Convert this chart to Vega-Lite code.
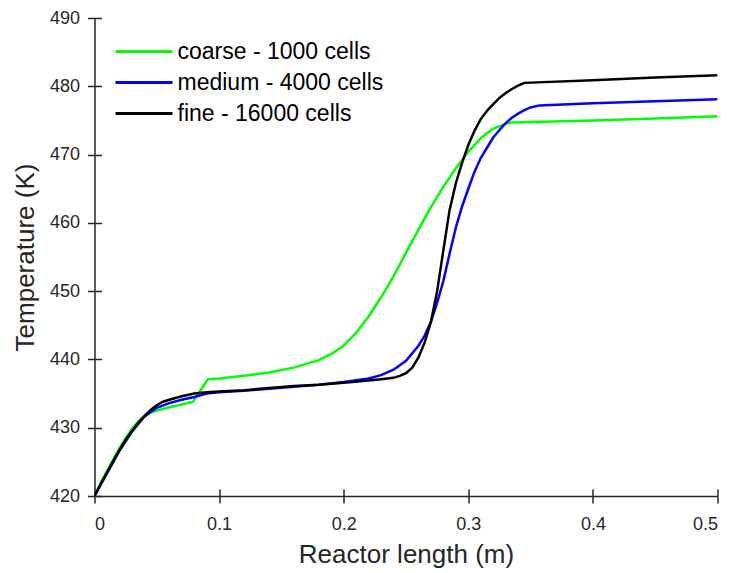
{
  "$schema": "https://vega.github.io/schema/vega-lite/v6.json",
  "width": 623,
  "height": 478,
  "autosize": {"type": "none"},
  "padding": {"left": 94.5, "top": 18, "right": 16.5, "bottom": 77},
  "background": "white",
  "config": {"view": {"stroke": null}, "font": "Liberation Sans"},
  "datasets": {
    "d": [
      {"s": "coarse - 1000 cells", "x": 0, "t": 420},
      {"s": "coarse - 1000 cells", "x": 0.005, "t": 422.0},
      {"s": "coarse - 1000 cells", "x": 0.01, "t": 423.7},
      {"s": "coarse - 1000 cells", "x": 0.02, "t": 427.0},
      {"s": "coarse - 1000 cells", "x": 0.025, "t": 428.5},
      {"s": "coarse - 1000 cells", "x": 0.03, "t": 429.8},
      {"s": "coarse - 1000 cells", "x": 0.035, "t": 430.9},
      {"s": "coarse - 1000 cells", "x": 0.04, "t": 431.7},
      {"s": "coarse - 1000 cells", "x": 0.045, "t": 432.2},
      {"s": "coarse - 1000 cells", "x": 0.05, "t": 432.5},
      {"s": "coarse - 1000 cells", "x": 0.06, "t": 433.0},
      {"s": "coarse - 1000 cells", "x": 0.07, "t": 433.4},
      {"s": "coarse - 1000 cells", "x": 0.079, "t": 433.8},
      {"s": "coarse - 1000 cells", "x": 0.091, "t": 437.1},
      {"s": "coarse - 1000 cells", "x": 0.1, "t": 437.2},
      {"s": "coarse - 1000 cells", "x": 0.106, "t": 437.3},
      {"s": "coarse - 1000 cells", "x": 0.12, "t": 437.6},
      {"s": "coarse - 1000 cells", "x": 0.14, "t": 438.1},
      {"s": "coarse - 1000 cells", "x": 0.16, "t": 438.8},
      {"s": "coarse - 1000 cells", "x": 0.18, "t": 439.9},
      {"s": "coarse - 1000 cells", "x": 0.19, "t": 440.8},
      {"s": "coarse - 1000 cells", "x": 0.2, "t": 442.0},
      {"s": "coarse - 1000 cells", "x": 0.21, "t": 443.9},
      {"s": "coarse - 1000 cells", "x": 0.22, "t": 446.3},
      {"s": "coarse - 1000 cells", "x": 0.23, "t": 449.1},
      {"s": "coarse - 1000 cells", "x": 0.24, "t": 452.2},
      {"s": "coarse - 1000 cells", "x": 0.25, "t": 455.6},
      {"s": "coarse - 1000 cells", "x": 0.26, "t": 459.0},
      {"s": "coarse - 1000 cells", "x": 0.27, "t": 462.3},
      {"s": "coarse - 1000 cells", "x": 0.28, "t": 465.3},
      {"s": "coarse - 1000 cells", "x": 0.29, "t": 468.0},
      {"s": "coarse - 1000 cells", "x": 0.3, "t": 470.4},
      {"s": "coarse - 1000 cells", "x": 0.31, "t": 472.4},
      {"s": "coarse - 1000 cells", "x": 0.32, "t": 473.8},
      {"s": "coarse - 1000 cells", "x": 0.33, "t": 474.5},
      {"s": "coarse - 1000 cells", "x": 0.335, "t": 474.7},
      {"s": "coarse - 1000 cells", "x": 0.4, "t": 475.0},
      {"s": "coarse - 1000 cells", "x": 0.45, "t": 475.3},
      {"s": "coarse - 1000 cells", "x": 0.5, "t": 475.6},
      {"s": "medium - 4000 cells", "x": 0, "t": 420},
      {"s": "medium - 4000 cells", "x": 0.005, "t": 421.7},
      {"s": "medium - 4000 cells", "x": 0.01, "t": 423.3},
      {"s": "medium - 4000 cells", "x": 0.02, "t": 426.6},
      {"s": "medium - 4000 cells", "x": 0.03, "t": 429.4},
      {"s": "medium - 4000 cells", "x": 0.035, "t": 430.5},
      {"s": "medium - 4000 cells", "x": 0.04, "t": 431.6},
      {"s": "medium - 4000 cells", "x": 0.045, "t": 432.3},
      {"s": "medium - 4000 cells", "x": 0.05, "t": 432.9},
      {"s": "medium - 4000 cells", "x": 0.06, "t": 433.6},
      {"s": "medium - 4000 cells", "x": 0.07, "t": 434.1},
      {"s": "medium - 4000 cells", "x": 0.08, "t": 434.5},
      {"s": "medium - 4000 cells", "x": 0.09, "t": 435.0},
      {"s": "medium - 4000 cells", "x": 0.1, "t": 435.2},
      {"s": "medium - 4000 cells", "x": 0.12, "t": 435.4},
      {"s": "medium - 4000 cells", "x": 0.14, "t": 435.7},
      {"s": "medium - 4000 cells", "x": 0.16, "t": 436.0},
      {"s": "medium - 4000 cells", "x": 0.18, "t": 436.3},
      {"s": "medium - 4000 cells", "x": 0.2, "t": 436.7},
      {"s": "medium - 4000 cells", "x": 0.22, "t": 437.2},
      {"s": "medium - 4000 cells", "x": 0.23, "t": 437.7},
      {"s": "medium - 4000 cells", "x": 0.24, "t": 438.5},
      {"s": "medium - 4000 cells", "x": 0.25, "t": 439.8},
      {"s": "medium - 4000 cells", "x": 0.26, "t": 442.0},
      {"s": "medium - 4000 cells", "x": 0.265, "t": 443.5},
      {"s": "medium - 4000 cells", "x": 0.27, "t": 445.5},
      {"s": "medium - 4000 cells", "x": 0.275, "t": 448.3},
      {"s": "medium - 4000 cells", "x": 0.28, "t": 451.5},
      {"s": "medium - 4000 cells", "x": 0.285, "t": 455.5},
      {"s": "medium - 4000 cells", "x": 0.29, "t": 459.3},
      {"s": "medium - 4000 cells", "x": 0.295, "t": 462.4},
      {"s": "medium - 4000 cells", "x": 0.3, "t": 465.0},
      {"s": "medium - 4000 cells", "x": 0.305, "t": 467.5},
      {"s": "medium - 4000 cells", "x": 0.31, "t": 469.5},
      {"s": "medium - 4000 cells", "x": 0.315, "t": 471.0},
      {"s": "medium - 4000 cells", "x": 0.32, "t": 472.5},
      {"s": "medium - 4000 cells", "x": 0.325, "t": 473.6},
      {"s": "medium - 4000 cells", "x": 0.33, "t": 474.6},
      {"s": "medium - 4000 cells", "x": 0.335, "t": 475.4},
      {"s": "medium - 4000 cells", "x": 0.34, "t": 476.0},
      {"s": "medium - 4000 cells", "x": 0.345, "t": 476.5},
      {"s": "medium - 4000 cells", "x": 0.35, "t": 476.9},
      {"s": "medium - 4000 cells", "x": 0.357, "t": 477.2},
      {"s": "medium - 4000 cells", "x": 0.4, "t": 477.5},
      {"s": "medium - 4000 cells", "x": 0.45, "t": 477.8},
      {"s": "medium - 4000 cells", "x": 0.5, "t": 478.1},
      {"s": "fine - 16000 cells", "x": 0, "t": 420},
      {"s": "fine - 16000 cells", "x": 0.005, "t": 421.7},
      {"s": "fine - 16000 cells", "x": 0.01, "t": 423.4},
      {"s": "fine - 16000 cells", "x": 0.015, "t": 425.1},
      {"s": "fine - 16000 cells", "x": 0.02, "t": 426.7},
      {"s": "fine - 16000 cells", "x": 0.025, "t": 428.2},
      {"s": "fine - 16000 cells", "x": 0.03, "t": 429.5},
      {"s": "fine - 16000 cells", "x": 0.035, "t": 430.7},
      {"s": "fine - 16000 cells", "x": 0.04, "t": 431.7},
      {"s": "fine - 16000 cells", "x": 0.045, "t": 432.6},
      {"s": "fine - 16000 cells", "x": 0.05, "t": 433.3},
      {"s": "fine - 16000 cells", "x": 0.055, "t": 433.8},
      {"s": "fine - 16000 cells", "x": 0.06, "t": 434.1},
      {"s": "fine - 16000 cells", "x": 0.07, "t": 434.6},
      {"s": "fine - 16000 cells", "x": 0.08, "t": 435.0},
      {"s": "fine - 16000 cells", "x": 0.09, "t": 435.2},
      {"s": "fine - 16000 cells", "x": 0.1, "t": 435.3},
      {"s": "fine - 16000 cells", "x": 0.12, "t": 435.5},
      {"s": "fine - 16000 cells", "x": 0.14, "t": 435.8},
      {"s": "fine - 16000 cells", "x": 0.16, "t": 436.1},
      {"s": "fine - 16000 cells", "x": 0.18, "t": 436.3},
      {"s": "fine - 16000 cells", "x": 0.2, "t": 436.6},
      {"s": "fine - 16000 cells", "x": 0.22, "t": 436.9},
      {"s": "fine - 16000 cells", "x": 0.23, "t": 437.1},
      {"s": "fine - 16000 cells", "x": 0.24, "t": 437.3},
      {"s": "fine - 16000 cells", "x": 0.245, "t": 437.6},
      {"s": "fine - 16000 cells", "x": 0.25, "t": 438.0},
      {"s": "fine - 16000 cells", "x": 0.255, "t": 438.8},
      {"s": "fine - 16000 cells", "x": 0.26, "t": 440.3},
      {"s": "fine - 16000 cells", "x": 0.265, "t": 442.5},
      {"s": "fine - 16000 cells", "x": 0.27, "t": 445.5},
      {"s": "fine - 16000 cells", "x": 0.275, "t": 450.0},
      {"s": "fine - 16000 cells", "x": 0.28, "t": 456.0},
      {"s": "fine - 16000 cells", "x": 0.285, "t": 461.9},
      {"s": "fine - 16000 cells", "x": 0.29, "t": 465.8},
      {"s": "fine - 16000 cells", "x": 0.295, "t": 468.8},
      {"s": "fine - 16000 cells", "x": 0.3, "t": 471.4},
      {"s": "fine - 16000 cells", "x": 0.305, "t": 473.5},
      {"s": "fine - 16000 cells", "x": 0.31, "t": 475.2},
      {"s": "fine - 16000 cells", "x": 0.315, "t": 476.4},
      {"s": "fine - 16000 cells", "x": 0.32, "t": 477.4},
      {"s": "fine - 16000 cells", "x": 0.325, "t": 478.3},
      {"s": "fine - 16000 cells", "x": 0.33, "t": 479.0},
      {"s": "fine - 16000 cells", "x": 0.335, "t": 479.6},
      {"s": "fine - 16000 cells", "x": 0.34, "t": 480.1},
      {"s": "fine - 16000 cells", "x": 0.345, "t": 480.5},
      {"s": "fine - 16000 cells", "x": 0.4, "t": 480.9},
      {"s": "fine - 16000 cells", "x": 0.45, "t": 481.3},
      {"s": "fine - 16000 cells", "x": 0.5, "t": 481.6}
    ]
  },
  "data": {"name": "d"},
  "mark": {"type": "line", "strokeWidth": 2.5, "clip": true},
  "encoding": {
    "x": {
      "field": "x", "type": "quantitative",
      "scale": {"domain": [0, 0.5], "nice": false, "zero": false},
      "axis": {
        "orient": "bottom",
        "values": [0, 0.1, 0.2, 0.3, 0.4, 0.5],
        "format": ".1~f",
        "grid": true, "gridColor": "#262626", "gridWidth": 1.5, "gridDash": [7, 2000], "gridDashOffset": 1536, "gridOpacity": 1,
        "domainColor": "#262626", "domainWidth": 1.5,
        "tickColor": "#262626", "tickWidth": 1.5, "tickSize": 7,
        "labelFontSize": 18, "labelColor": "#262626", "labelPadding": 12,
        "labelFont": "Liberation Sans",
        "title": "Reactor length (m)",
        "titleFont": "Liberation Sans", "titleFontSize": 26, "titleFontWeight": "normal",
        "titleColor": "#262626", "titleX": 311.5, "titleY": 66,
        "titleBaseline": "alphabetic", "titleAlign": "center"
      }
    },
    "y": {
      "field": "t", "type": "quantitative",
      "scale": {"domain": [420, 490], "nice": false, "zero": false},
      "axis": {
        "orient": "left",
        "values": [420, 430, 440, 450, 460, 470, 480, 490],
        "grid": true, "gridColor": "#262626", "gridWidth": 1.5, "gridDash": [7, 2000], "gridOpacity": 1,
        "domainColor": "#262626", "domainWidth": 1.5,
        "tickColor": "#262626", "tickWidth": 1.5, "tickSize": 7,
        "labelFontSize": 18, "labelColor": "#262626", "labelPadding": 8,
        "labelFont": "Liberation Sans",
        "title": "Temperature (K)",
        "titleFont": "Liberation Sans", "titleFontSize": 26, "titleFontWeight": "normal",
        "titleColor": "#262626", "titleAngle": 270, "titleX": -61.5, "titleY": 239,
        "titleBaseline": "alphabetic", "titleAlign": "center"
      }
    },
    "color": {
      "field": "s", "type": "nominal",
      "scale": {"domain": ["coarse - 1000 cells", "medium - 4000 cells", "fine - 16000 cells"], "range": ["#00ff00", "#0000ff", "#000000"]},
      "legend": {
        "orient": "none", "legendX": 19, "legendY": 22,
        "title": null,
        "symbolType": "M-3,0L3,0", "symbolSize": 361, "symbolStrokeWidth": 3,
        "symbolOffset": 19,
        "labelFont": "Liberation Sans", "labelFontSize": 23, "labelColor": "#000000",
        "labelOffset": 22, "rowPadding": 7, "labelLimit": 400
      }
    }
  }
}
